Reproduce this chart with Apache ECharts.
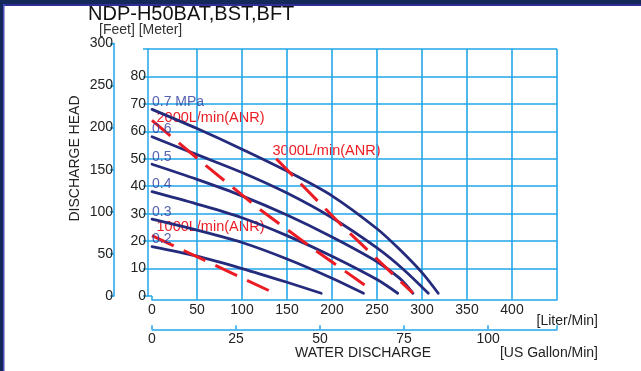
<!DOCTYPE html>
<html><head><meta charset="utf-8">
<script src="https://cdn.jsdelivr.net/npm/echarts@6/dist/echarts.min.js"></script>
<style>html,body{margin:0;padding:0;background:#fff}#c{width:641px;height:371px}</style>
</head><body><div id="c"></div>
<script>
// ---- data ----
const literTicks = [0, 50, 100, 150, 200, 250, 300, 350, 400];
const gallonTicks = [0, 25, 50, 75, 100];
const meterTicks = [0, 10, 20, 30, 40, 50, 60, 70, 80];
const feetTicks = [0, 50, 100, 150, 200, 250, 300];

const pressureNames = ['0.7 MPa', '0.6', '0.5', '0.4', '0.3', '0.2'];
const pressureHeads = [70, 60, 50, 40, 30, 20];

// [water discharge L/min, head m]
const p07 = [[0,68],[50,61],[100,53.5],[150,45.5],[200,36.5],[250,24.5],[275,17],[300,8.5],[318,1]];
const p06 = [[0,58],[50,51.5],[100,45],[150,37.5],[200,28.5],[250,17.5],[280,9.5],[307,1]];
const p05 = [[0,48],[50,42.5],[100,36.5],[150,29.5],[200,21.5],[250,12.5],[275,6.5],[290,1]];
const p04 = [[0,38],[50,33.5],[100,28.5],[150,22],[200,14.5],[250,6],[273,1]];
const p03 = [[0,28],[50,24],[100,19.5],[150,13.5],[200,6.5],[235,1]];
const p02 = [[0,18],[50,14.5],[100,10],[150,5],[188,1]];

const air1000 = [[0,22],[133,1.5]];
const air2000 = [[0,64],[60,47.5],[120,31.5],[180,17],[245,2]];
const air3000 = [[138,50],[213,25],[290,1]];
const airNames = ['1000L/min(ANR)', '2000L/min(ANR)', '3000L/min(ANR)'];

const GALLON_MAX = 120.5; // axis end (US gal/min) matching 450 L/min end

// ---- style ----
const FONT = '"Liberation Sans", Arial, Helvetica, sans-serif';
const BLUE = '#22a6e8';
const NAVY = '#252b7c';
const RED = '#ec1c24';
const LBL = '#2e3a9c';

const chart = echarts.init(document.getElementById('c'));

const curves = [p07, p06, p05, p04, p03, p02];
const airs = [air1000, air2000, air3000];

const series = [];
curves.forEach((d) => series.push({
  type: 'line', xAxisIndex: 0, yAxisIndex: 0, data: d, smooth: 0.3,
  showSymbol: false, symbol: 'none', z: 3,
  lineStyle: { color: NAVY, width: 2.8, cap: 'round' }
}));
airs.forEach((d) => series.push({
  type: 'line', xAxisIndex: 0, yAxisIndex: 0, data: d, smooth: false,
  showSymbol: false, symbol: 'none', z: 4,
  lineStyle: { color: RED, width: 3, type: [24, 11] }
}));
series.push({
  type: 'scatter', xAxisIndex: 0, yAxisIndex: 0, symbolSize: 0, z: 5,
  data: pressureHeads.map((h, i) => ({ value: [0, h], name: pressureNames[i] })),
  label: { show: true, position: 'right', distance: 0, offset: [0, -2], formatter: p => p.name,
    color: LBL, fontSize: 14, fontFamily: FONT }
});

const txt = (text, x, y, opt) => ({
  type: 'text', x: x, y: y, silent: true,
  style: Object.assign({ text: text, font: '14px ' + FONT, fill: '#222', textAlign: 'left', textVerticalAlign: 'middle' }, opt || {})
});

const axisLineX = { onZero: false, lineStyle: { color: BLUE, width: 1.5 } };

const option = {
  animation: false,
  backgroundColor: '#ffffff',
  grid: [
    { left: 152, right: 84, top: 49, bottom: 75 },
    { left: 114, width: 1, top: 43.3, bottom: 75 }
  ],
  xAxis: [
    { gridIndex: 0, type: 'value', min: 0, max: 450, interval: 50, position: 'bottom', offset: 4,
      axisLine: axisLineX,
      axisTick: { inside: true, length: 4, lineStyle: { color: BLUE, width: 1.5 } },
      axisLabel: { margin: 3, fontSize: 14, color: '#222', fontFamily: FONT,
        formatter: v => literTicks.indexOf(v) >= 0 ? String(v) : '' },
      splitLine: { show: true, showMinLine: false, lineStyle: { color: BLUE, width: 1.6 } } },
    { gridIndex: 0, type: 'value', min: 0, max: GALLON_MAX, interval: 25, position: 'bottom', offset: 33.3,
      axisLine: axisLineX,
      axisTick: { inside: true, length: 4, lineStyle: { color: BLUE, width: 1.5 } },
      axisLabel: { margin: 3, fontSize: 14, color: '#222', fontFamily: FONT,
        formatter: v => gallonTicks.indexOf(v) >= 0 ? String(v) : '' },
      splitLine: { show: false } },
    { gridIndex: 1, type: 'value', show: false, min: 0, max: 1 }
  ],
  yAxis: [
    { gridIndex: 0, type: 'value', min: 0, max: 90, interval: 10, position: 'left', offset: 4,
      axisLine: { show: true, onZero: false, lineStyle: { color: BLUE, width: 1.5 } },
      axisTick: { show: true, length: 5, lineStyle: { color: BLUE, width: 1.5 } },
      axisLabel: { margin: 2, fontSize: 14, color: '#222', fontFamily: FONT,
        formatter: v => meterTicks.indexOf(v) >= 0 ? String(v) : '' },
      splitLine: { show: true, showMinLine: false, lineStyle: { color: BLUE, width: 1.6 } } },
    { gridIndex: 0, type: 'value', min: 0, max: 90, interval: 10, position: 'left', offset: 0,
      axisLine: { show: false, onZero: false },
      axisTick: { show: true, length: 4, lineStyle: { color: BLUE, width: 1.5 } },
      axisLabel: { show: false }, splitLine: { show: false } },
    { gridIndex: 1, type: 'value', min: 0, max: 300, interval: 50, position: 'left', offset: 0,
      axisLine: { show: true, onZero: false, lineStyle: { color: BLUE, width: 1.5 } },
      axisTick: { show: true, length: 4, lineStyle: { color: BLUE, width: 1.5 } },
      axisLabel: { margin: 1, fontSize: 14, color: '#222', fontFamily: FONT,
        formatter: v => feetTicks.indexOf(v) >= 0 ? String(v) : '' },
      splitLine: { show: false } }
  ],
  series: series,
  graphic: [
    { type: 'rect', shape: { x: 0, y: 0, width: 641, height: 4 }, style: { fill: '#14285a' }, silent: true },
    { type: 'rect', shape: { x: 0, y: 4, width: 641, height: 2 }, style: { fill: '#2e2e98' }, silent: true },
    { type: 'rect', shape: { x: 0, y: 0, width: 3, height: 371 }, style: { fill: '#14285a' }, silent: true },
    { type: 'rect', shape: { x: 3, y: 4, width: 1.5, height: 367 }, style: { fill: '#4b4bc0' }, silent: true },
    txt('NDP-H50BAT,BST,BFT', 88, 14, { font: '20px ' + FONT, fill: '#111' }),
    txt('[Feet] [Meter]', 99, 30, { fill: '#333' }),
    Object.assign(txt('DISCHARGE HEAD', 75, 158.5, { textAlign: 'center' }), { rotation: Math.PI / 2 }),
    txt('WATER DISCHARGE', 295, 353.5),
    txt('[Liter/Min]', 598, 321, { textAlign: 'right' }),
    txt('[US Gallon/Min]', 598, 353.5, { textAlign: 'right' }),
    txt(airNames[1], 156.5, 117.8, { fill: RED, font: '14.5px ' + FONT }),
    txt(airNames[2], 272.5, 150.5, { fill: RED, font: '14.5px ' + FONT }),
    txt(airNames[0], 156.5, 226.7, { fill: RED, font: '14.5px ' + FONT })
  ]
};

chart.setOption(option);
</script>
</body></html>
